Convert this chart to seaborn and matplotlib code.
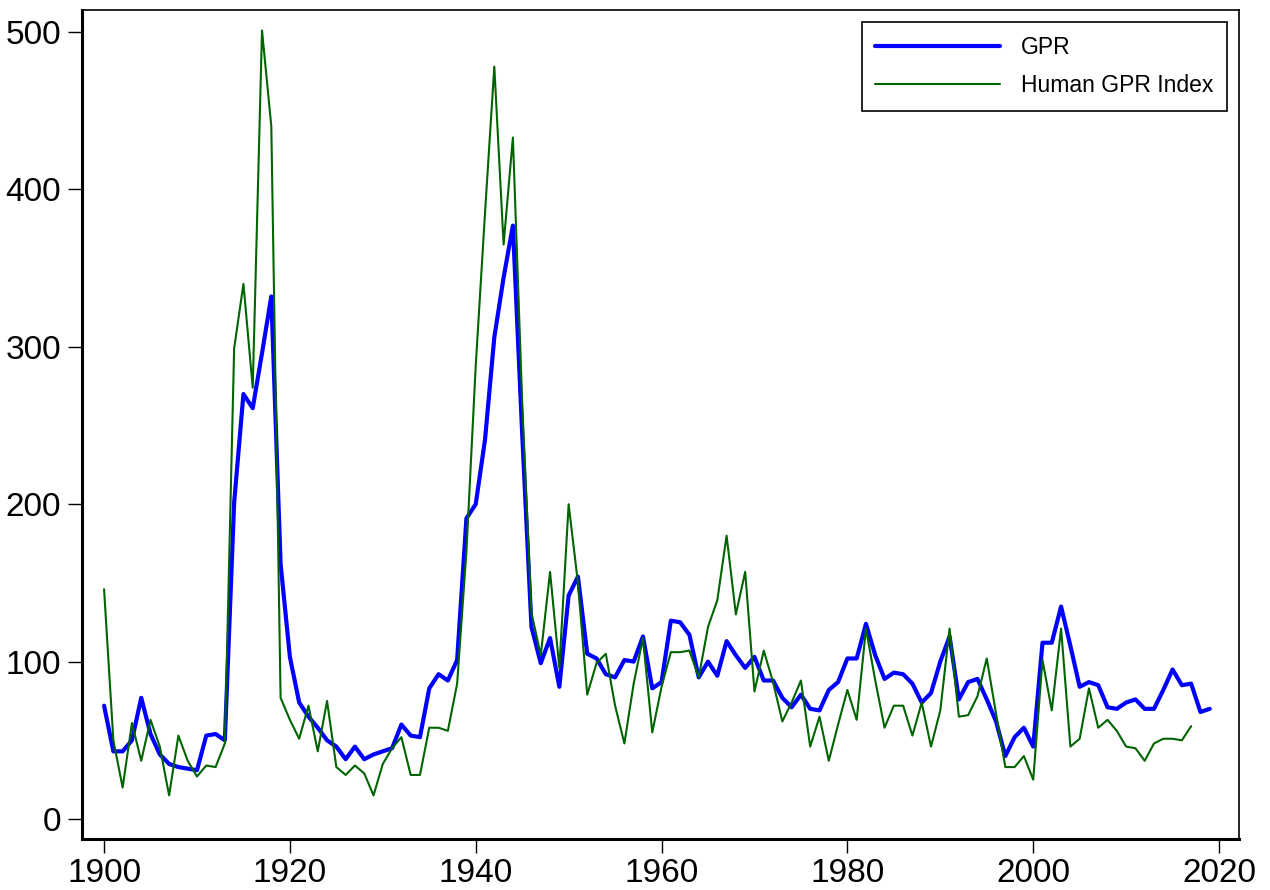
import pandas as pd
import matplotlib
matplotlib.use("Agg")
import matplotlib.pyplot as plt
import seaborn as sns

###############################################################################
# data (annual values)
gpr_years = list(range(1900, 2020))
gpr_values = [72, 43, 43, 50, 77, 54, 41, 35, 33, 32,
              31, 53, 54, 50, 201, 270, 261, 296, 332, 162,
              103, 74, 65, 58, 50, 46, 38, 46, 38, 41,
              43, 45, 60, 53, 52, 83, 92, 88, 101, 191,
              200, 241, 306, 344, 377, 245, 122, 99, 115, 84,
              142, 154, 105, 102, 92, 90, 101, 100, 116, 83,
              87, 126, 125, 117, 90, 100, 91, 113, 104, 96,
              103, 88, 88, 77, 71, 79, 70, 69, 82, 87,
              102, 102, 124, 104, 89, 93, 92, 86, 74, 80,
              100, 116, 76, 87, 89, 76, 62, 40, 52, 58,
              46, 112, 112, 135, 110, 84, 87, 85, 71, 70,
              74, 76, 70, 70, 82, 95, 85, 86, 68, 70]

human_years = list(range(1900, 2018))
human_values = [146, 50, 20, 61, 37, 63, 46, 15, 53, 37,
                27, 34, 33, 48, 299, 340, 274, 501, 440, 77,
                63, 51, 72, 43, 75, 33, 28, 34, 29, 15,
                35, 45, 52, 28, 28, 58, 58, 56, 86, 170,
                288, 385, 478, 365, 433, 265, 131, 104, 157, 96,
                200, 150, 79, 99, 105, 72, 48, 86, 115, 55,
                84, 106, 106, 107, 90, 122, 139, 180, 130, 157,
                81, 107, 87, 62, 74, 88, 46, 65, 37, 60,
                82, 63, 121, 88, 58, 72, 72, 53, 74, 46,
                69, 121, 65, 66, 78, 102, 67, 33, 33, 40,
                25, 101, 69, 121, 46, 51, 83, 58, 63, 56,
                46, 45, 37, 48, 51, 51, 50, 59]

gpr = pd.DataFrame({'year': gpr_years, 'value': gpr_values})
human = pd.DataFrame({'year': human_years, 'value': human_values})

###############################################################################
sns.set_style("white")
plt.rcParams['font.family'] = ['Liberation Sans', 'DejaVu Sans']

fig = plt.figure(figsize=(12.7, 8.9), dpi=100)
ax = fig.add_axes([0.0646, 0.0573, 0.9110, 0.9315])

sns.lineplot(data=gpr, x='year', y='value', ax=ax, color='#0000ff',
             linewidth=3.0, label='GPR')
sns.lineplot(data=human, x='year', y='value', ax=ax, color='#006400',
             linewidth=1.5, label='Human GPR Index')

ax.set_xlim(1897.63, 2022.15)
ax.set_ylim(-12.7, 514)
ax.set_xticks(range(1900, 2021, 20))
ax.set_yticks(range(0, 501, 100))
ax.set_xlabel('')
ax.set_ylabel('')

# axis styling
for side in ['left', 'bottom']:
    ax.spines[side].set_linewidth(2.2)
for side in ['top', 'right']:
    ax.spines[side].set_linewidth(1.2)
for s in ax.spines.values():
    s.set_color('black')
ax.tick_params(axis='both', direction='out', length=10, width=1.0,
               color='black', labelsize=24, labelcolor='black')
ax.tick_params(axis='y', pad=5)
ax.tick_params(axis='x', pad=4)
ax.xaxis.set_ticks_position('bottom')
ax.yaxis.set_ticks_position('left')

# legend box
leg = ax.legend(loc='upper right', bbox_to_anchor=(0.9897, 0.9855),
                fontsize=16.5, frameon=True, fancybox=False, shadow=False,
                handlelength=5.45, handletextpad=0.9, borderpad=0.6,
                labelspacing=0.68, borderaxespad=0.0)
leg.get_frame().set_edgecolor('black')
leg.get_frame().set_linewidth(1.2)
leg.get_frame().set_alpha(1)
for t in leg.get_texts():
    t.set_color('black')

fig.savefig('out.png', dpi=100)
